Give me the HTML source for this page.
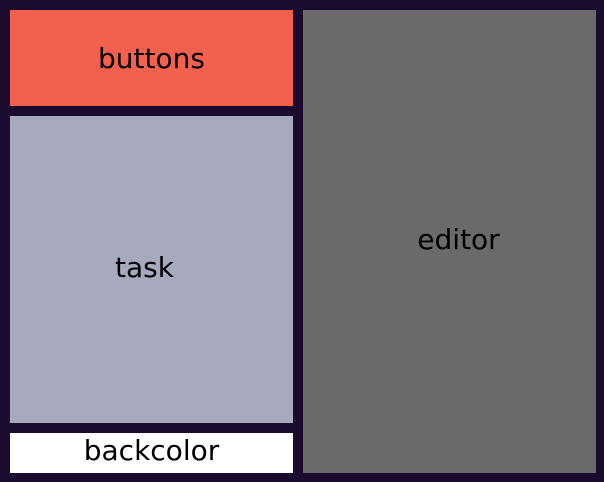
<!DOCTYPE html>
<html><head><style>
html,body{margin:0;padding:0;}
body{width:604px;height:482px;background:#1b0b2f;position:relative;overflow:hidden;font-family:"DejaVu Sans","Liberation Sans",sans-serif;font-size:28px;color:#000;}
.b{position:absolute;display:flex;align-items:center;justify-content:center;box-sizing:border-box;}
</style></head><body>
<div class="b" style="left:10px;top:10px;width:283px;height:96px;background:#f4604e;padding-top:1px;">buttons</div>
<div class="b" style="left:10px;top:116px;width:283px;height:307px;background:#a7aabd;padding-right:14px;padding-bottom:5px;">task</div>
<div class="b" style="left:10px;top:433px;width:283px;height:40px;background:#ffffff;padding-bottom:5px;">backcolor</div>
<div class="b" style="left:303px;top:10px;width:293px;height:463px;background:#6a6a6a;padding-left:18px;padding-bottom:4px;">editor</div>
</body></html>
